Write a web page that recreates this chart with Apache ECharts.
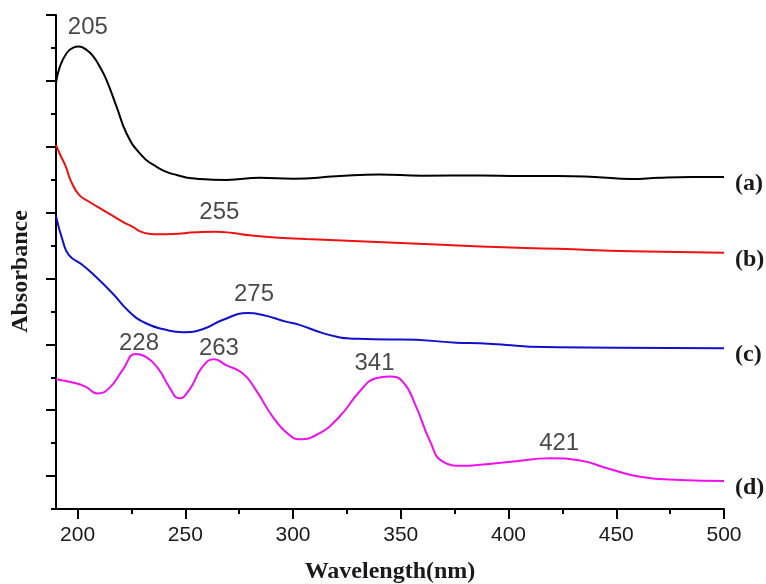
<!DOCTYPE html>
<html>
<head>
<meta charset="utf-8">
<script src="https://cdn.jsdelivr.net/npm/echarts@6/dist/echarts.min.js"></script>
<style>
  html, body { margin: 0; padding: 0; background: #ffffff; }
  #chart { width: 766px; height: 584px; }
</style>
</head>
<body>
<div id="chart"></div>
<script>
// ---- Data (y in arbitrary absorbance units with offsets) ----
const xTickValues = [200, 250, 300, 350, 400, 450, 500];
const xMinorTickValues = [225, 275, 325, 375, 425, 475];
const yMajorTickValues = [1, 3, 5, 7, 9, 11, 13, 15];
const yMinorTickValues = [0, 2, 4, 6, 8, 10, 12, 14];

const seriesNames = ['(a)', '(b)', '(c)', '(d)'];

const wlA  = [190, 191.8, 194.9, 198, 200.6, 204, 207.2, 210.4, 213.4, 218.1, 222.7, 228.9, 236.7, 246, 256.8, 269.2, 284.7, 300, 320, 340, 360, 387, 405, 423, 440, 457, 470, 485, 500];
const absA = [12.94, 13.43, 13.84, 14.01, 14.04, 13.95, 13.75, 13.42, 13.03, 12.22, 11.41, 10.80, 10.39, 10.14, 10.02, 9.99, 10.06, 10.03, 10.10, 10.16, 10.12, 10.13, 10.11, 10.11, 10.08, 10.02, 10.06, 10.08, 10.08];

const wlB  = [190, 192, 194.5, 197, 200.7, 205.4, 213, 221, 226, 229, 233, 238, 244, 255, 264, 272, 280, 290, 306, 350, 387, 423, 457, 500];
const absB = [11.05, 10.75, 10.40, 9.95, 9.54, 9.33, 9.03, 8.72, 8.55, 8.43, 8.36, 8.34, 8.35, 8.40, 8.42, 8.38, 8.31, 8.25, 8.20, 8.08, 7.97, 7.90, 7.83, 7.78];

const wlC  = [190, 193, 196, 202.3, 208.5, 216.2, 224, 231.7, 241, 249, 258, 267.3, 279, 286, 296.7, 303, 313.8, 321.8, 326, 345, 350, 375.7, 386.7, 399, 410, 450, 500];
const absC = [8.90, 8.17, 7.71, 7.41, 7.05, 6.55, 5.99, 5.64, 5.44, 5.37, 5.46, 5.74, 5.95, 5.89, 5.69, 5.59, 5.34, 5.21, 5.18, 5.15, 5.15, 5.05, 5.03, 4.98, 4.93, 4.90, 4.88];

const wlD  = [190, 199.2, 204, 209.3, 214.7, 220.9, 227, 231.7, 237.9, 242.5, 247.2, 251.8, 258, 263.4, 268.9, 276.6, 282.8, 290.6, 298.3, 302.9, 312.2, 321.5, 330.8, 338.5, 344.7, 350.9, 357.1, 363.3, 369.5, 378.8, 386.8, 402.3, 419.3, 433.3, 445.7, 461.1, 479.7, 500];
const absD = [3.94, 3.82, 3.70, 3.51, 3.67, 4.22, 4.71, 4.62, 4.22, 3.71, 3.36, 3.61, 4.32, 4.55, 4.37, 4.12, 3.61, 2.80, 2.25, 2.12, 2.30, 2.80, 3.56, 3.97, 4.02, 3.87, 3.11, 2.10, 1.44, 1.31, 1.34, 1.44, 1.54, 1.47, 1.24, 0.98, 0.88, 0.85];

// Peak annotations: text and the position of the text centre (data units)
const peakText = ['205', '255', '275', '228', '263', '341', '421'];
const peakWl   = [204.8, 265.8, 281.9, 228.5, 265.6, 337.8, 423.5];
const peakAbs  = [14.61, 9.02, 6.53, 5.03, 4.87, 4.42, 1.99];

// ---- Build chart ----
const colors = ['#000000', '#ee1111', '#1111cc', '#ee11ee'];
const wls = [wlA, wlB, wlC, wlD];
const abss = [absA, absB, absC, absD];

function zip(xs, ys) { return xs.map((x, i) => [x, ys[i]]); }

const lineSeries = seriesNames.map((nm, k) => ({
  name: nm,
  type: 'line',
  xAxisIndex: 0,
  yAxisIndex: 0,
  data: zip(wls[k], abss[k]),
  smooth: 0.5,
  showSymbol: false,
  symbol: 'none',
  lineStyle: { color: colors[k], width: 2 },
  itemStyle: { color: colors[k] },
  endLabel: {
    show: true,
    formatter: nm,
    distance: 11,
    offset: [0, 7],
    fontFamily: 'Liberation Serif',
    fontWeight: 'bold',
    fontSize: 24,
    color: '#1a1a1a'
  },
  silent: true
}));

const annotation = {
  type: 'scatter',
  xAxisIndex: 0,
  yAxisIndex: 0,
  symbolSize: 0,
  silent: true,
  clip: false,
  data: peakText.map((t, i) => ({ name: t, value: [peakWl[i], peakAbs[i]] })),
  label: {
    show: true,
    position: 'inside',
    formatter: '{b}',
    fontFamily: 'Liberation Sans',
    fontSize: 24,
    color: '#1a1a1a'
  }
};

const chart = echarts.init(document.getElementById('chart'), null, { renderer: 'canvas' });
chart.setOption({
  animation: false,
  backgroundColor: '#ffffff',
  grid: { left: 56, right: 42, top: 15, bottom: 75, containLabel: false, outerBoundsMode: 'none' },
  xAxis: [
    {
      type: 'value', min: 190, max: 500, position: 'bottom',
      name: 'Wavelength(nm)', nameLocation: 'middle', nameGap: 51,
      nameTextStyle: { fontFamily: 'Liberation Serif', fontWeight: 'bold', fontSize: 24, color: '#1a1a1a' },
      axisLine: { show: true, onZero: false, lineStyle: { color: '#000000', width: 2 } },
      axisTick: { show: true, inside: false, length: 10, customValues: xTickValues, lineStyle: { color: '#000000', width: 2 } },
      axisLabel: { show: true, customValues: xTickValues, margin: 16, fontFamily: 'Liberation Sans', fontSize: 21, color: '#1a1a1a' },
      splitLine: { show: false }
    },
    {
      type: 'value', min: 190, max: 500, position: 'bottom',
      axisLine: { show: false, onZero: false },
      axisTick: { show: true, inside: false, length: 5, customValues: xMinorTickValues, lineStyle: { color: '#000000', width: 2 } },
      axisLabel: { show: false },
      splitLine: { show: false }
    }
  ],
  yAxis: [
    {
      type: 'value', min: 0, max: 15, position: 'left',
      name: 'Absorbance', nameLocation: 'middle', nameGap: 23,
      nameTextStyle: { fontFamily: 'Liberation Serif', fontWeight: 'bold', fontSize: 24, color: '#1a1a1a', padding: [0, 19, 0, 0] },
      axisLine: { show: true, onZero: false, lineStyle: { color: '#000000', width: 2 } },
      axisTick: { show: true, inside: false, length: 10, customValues: yMajorTickValues, lineStyle: { color: '#000000', width: 2 } },
      axisLabel: { show: false },
      splitLine: { show: false }
    },
    {
      type: 'value', min: 0, max: 15, position: 'left',
      axisLine: { show: false, onZero: false },
      axisTick: { show: true, inside: false, length: 5, customValues: yMinorTickValues, lineStyle: { color: '#000000', width: 2 } },
      axisLabel: { show: false },
      splitLine: { show: false }
    }
  ],
  series: lineSeries.concat([annotation])
});
</script>
</body>
</html>
